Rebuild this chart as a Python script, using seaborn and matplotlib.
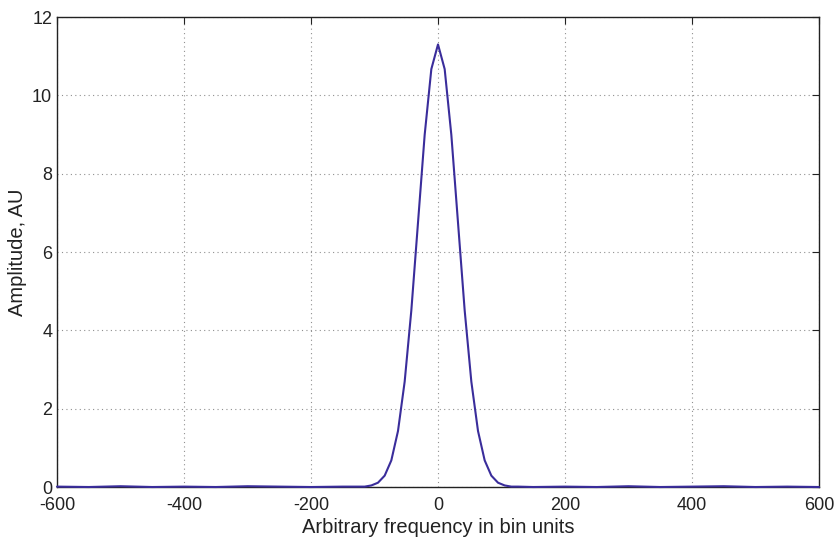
#%% import tools and libraries
import matplotlib
matplotlib.use('Agg')
import matplotlib.pyplot as plt
import pandas as pd
import seaborn as sns

#%% values
# baseline left of the peak (tiny ripples)
freq_left = [-600, -550, -500, -450, -400, -350, -300, -250, -200, -150, -126]
amp_left = [0.01, 0.0, 0.02, 0.0, 0.01, 0.0, 0.02, 0.01, 0.0, 0.01, 0.01]
# main lobe, bin spacing ~10.5
freq_peak = [-115.5, -105, -94.5, -84, -73.5, -63, -52.5, -42, -31.5, -21, -10.5,
             0, 10.5, 21, 31.5, 42, 52.5, 63, 73.5, 84, 94.5, 105, 115.5]
amp_peak = [0.01, 0.04, 0.11, 0.29, 0.68, 1.43, 2.69, 4.51, 6.75, 8.99, 10.67,
            11.30, 10.67, 8.99, 6.75, 4.51, 2.69, 1.43, 0.68, 0.29, 0.11, 0.04, 0.01]
# baseline right of the peak
freq_right = [126, 150, 200, 250, 300, 350, 400, 450, 500, 550, 600]
amp_right = [0.01, 0.0, 0.01, 0.0, 0.02, 0.0, 0.01, 0.02, 0.0, 0.01, 0.0]

df = pd.DataFrame({'freq': freq_left + freq_peak + freq_right,
                   'amp': amp_left + amp_peak + amp_right})

#%% plot
sns.set_style('white')
plt.rcParams['font.family'] = ['Liberation Sans', 'DejaVu Sans']
plt.rcParams['axes.unicode_minus'] = False

fig = plt.figure(figsize=(8.37, 5.45), dpi=100)
ax = fig.add_axes([0.0681, 0.1064, 0.9104, 0.8624])
sns.lineplot(data=df, x='freq', y='amp', ax=ax, color='#3a2d9b', linewidth=1.5,
             sort=False, zorder=3, clip_on=False)

ax.set_xlim(-600, 600)
ax.set_ylim(0, 12)
ax.set_xticks(range(-600, 601, 200))
ax.set_yticks(range(0, 13, 2))
ax.grid(True, color='#909090', linestyle=(0, (1, 3)), linewidth=0.8)
ax.tick_params(direction='in', length=5, width=0.8, top=True, right=True,
               labelsize=13, colors='#222222')
ax.tick_params(axis='x', pad=7)
ax.tick_params(axis='y', pad=3.5)
for s in ax.spines.values():
    s.set_color('#222222')
    s.set_linewidth(1.0)
ax.set_xlabel('Arbitrary frequency in bin units', fontsize=14.5, color='#222222', labelpad=3)
ax.set_ylabel('Amplitude, AU', fontsize=14.5, color='#222222', labelpad=3.5)

fig.savefig('out.png', dpi=100)
